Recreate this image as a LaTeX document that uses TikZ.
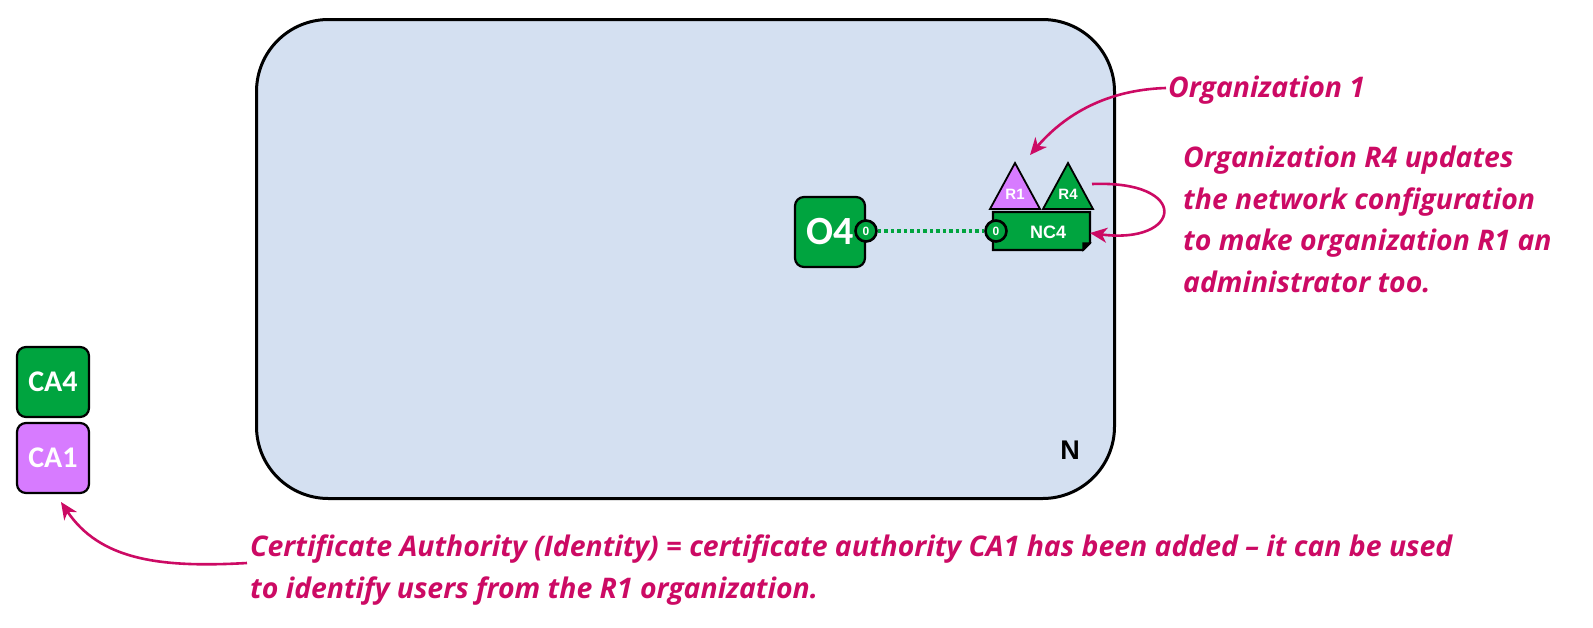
\documentclass[tikz,border=0pt]{standalone}
\usepackage{fontspec}
\setmainfont{Open Sans}
\newfontfamily\carl{Carlito}
\newfontfamily\lib{Liberation Sans}
\usetikzlibrary{arrows.meta}
\definecolor{netblue}{HTML}{D4E0F1}
\definecolor{ogreen}{HTML}{00A43F}
\definecolor{opurple}{HTML}{D77BFF}
\definecolor{mag}{HTML}{CC0A64}
\tikzset{
  box/.style={draw=black, line width=2.2pt, rounded corners=9pt, minimum width=70pt, minimum height=70pt, inner sep=0pt, text=white},
  port/.style={circle, draw=black, line width=2.6pt, fill=ogreen, minimum size=21pt, inner sep=0pt, text=white, font=\lib\bfseries\fontsize{12}{12}\selectfont},
  note/.style={text=mag, font=\bfseries\itshape\fontsize{28.4}{41.5}\selectfont, align=left, inner sep=0pt},
  callout/.style={draw=mag, line width=2.6pt, -{Stealth[length=17pt,width=15pt,inset=5pt]}},
  tri/.style={draw=black, line width=1.8pt},
}
\begin{document}
\begin{tikzpicture}[x=1pt,y=-1pt]
\useasboundingbox (0,0) rectangle (1593,627);
% network
\node[draw=black, line width=3pt, fill=netblue, rounded corners=72pt, minimum width=858pt, minimum height=479pt, anchor=north west, inner sep=0pt] (net) at (255,18) {};
\node[font=\lib\bfseries\fontsize{27}{27}\selectfont, anchor=center] (nlab) at (1070,450) {N};
% O4
\node[box, fill=ogreen, font=\carl\bfseries\fontsize{40}{40}\selectfont] (o4) at (830,232) {O4};
\node[port] (p1) at (866,231) {0};
% NC4
\draw[line width=2.2pt, fill=ogreen] (993,212) -- (1090,212) -- (1090,243) -- (1083,250) -- (993,250) -- cycle;
\draw[line width=1.4pt, fill=black] (1090,243) -- (1083,243) -- (1083,250) -- cycle;
\node[text=white, font=\lib\bfseries\fontsize{18}{18}\selectfont] (nc4) at (1048,232) {NC4};
\coordinate (nc4r) at (1090,233);
\node[port] (p2) at (996,231) {0};
\draw[ogreen, line width=3.5pt, dash pattern=on 3.5pt off 3pt] (p1) -- (p2);
% triangles
\draw[tri, fill=opurple] (990,209) -- (1015,163) -- (1040,209) -- cycle;
\node[text=white, font=\lib\bfseries\fontsize{15}{15}\selectfont] (r1) at (1015,194) {R1};
\draw[tri, fill=ogreen] (1043,209) -- (1068,163) -- (1093,209) -- cycle;
\node[text=white, font=\lib\bfseries\fontsize{15}{15}\selectfont] (r4) at (1068,194) {R4};
\coordinate (r4r) at (1092,184);
\coordinate (r1t) at (1030,155);
% CAs
\node[box, fill=ogreen, minimum width=72pt, font=\carl\bfseries\fontsize{30}{30}\selectfont] (ca4) at (53,382) {CA4};
\node[box, fill=opurple, minimum width=72pt, font=\carl\bfseries\fontsize{30}{30}\selectfont] (ca1) at (53,458) {CA1};
\coordinate (ca1b) at (61,502);
% notes
\node[note, anchor=base west] (org1) at (1168,97) {Organization 1};
\node[note, anchor=base west] (upd) at (1183,292) {Organization R4 updates\\the network configuration\\to make organization R1 an\\administrator too.};
\node[note, anchor=base west] (cert) at (250,598) {Certificate Authority (Identity) = certificate authority CA1 has been added – it can be used\\to identify users from the R1 organization.};
\coordinate (org1s) at (1166,88);
\coordinate (certs) at (247,563);
% callouts
\draw[callout] (org1s) .. controls (1100,90) and (1060,120) .. (r1t);
\draw[callout] (r4r) .. controls (1192,180) and (1182,245) .. (nc4r);
\draw[callout] (certs) .. controls (160,568) and (100,560) .. (ca1b);
\end{tikzpicture}
\end{document}
